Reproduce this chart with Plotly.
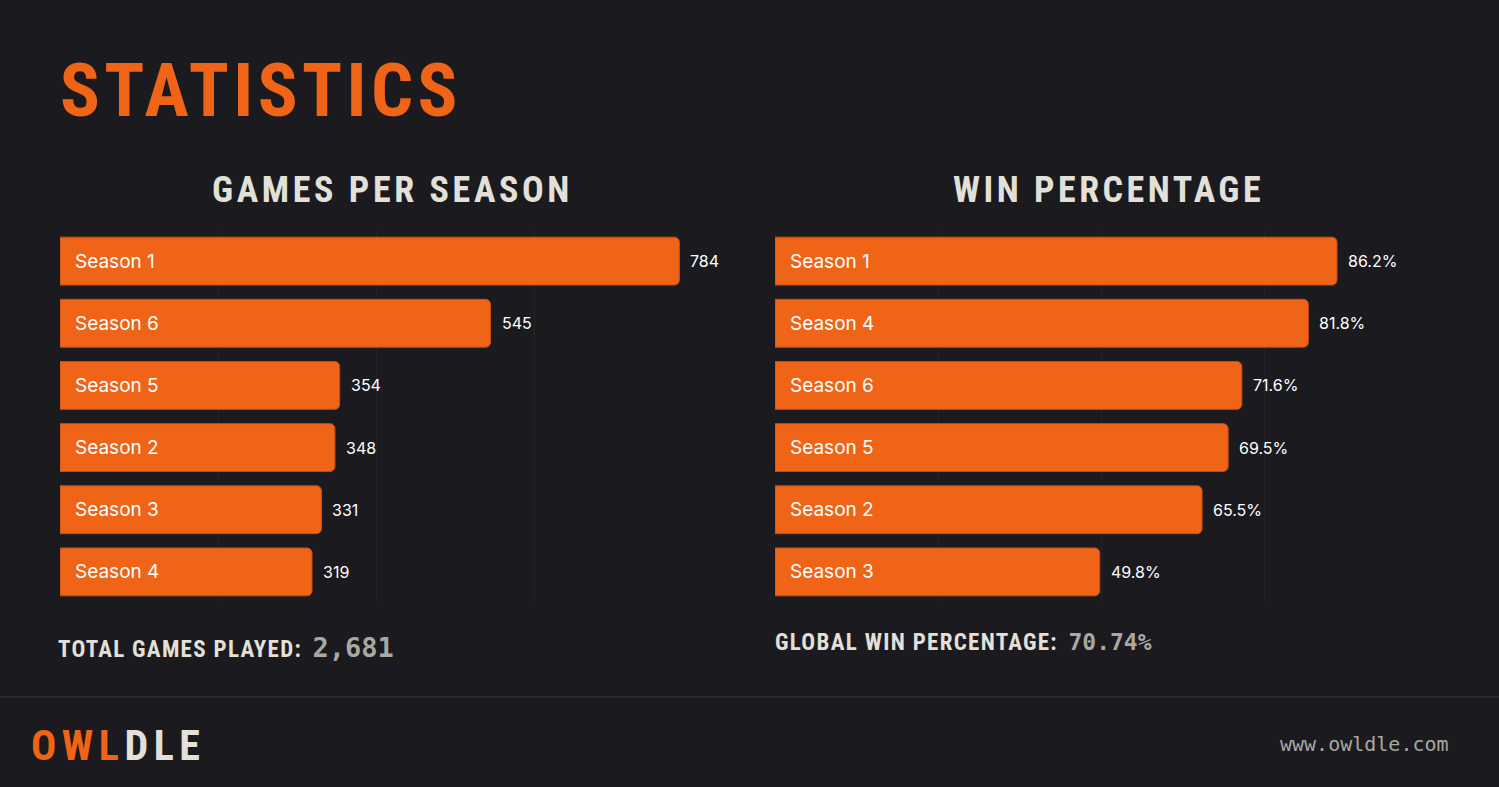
import plotly.graph_objects as go

W, H = 1499, 787

games_seasons = ["Season 1", "Season 6", "Season 5", "Season 2", "Season 3", "Season 4"]
games_values = [784, 545, 354, 348, 331, 319]
games_labels = ["784", "545", "354", "348", "331", "319"]

win_seasons = ["Season 1", "Season 4", "Season 6", "Season 5", "Season 2", "Season 3"]
win_values = [86.2, 81.8, 71.6, 69.5, 65.5, 49.8]
win_labels = ["86.2%", "81.8%", "71.6%", "69.5%", "65.5%", "49.8%"]

total_games = "2,681"
global_win = "70.74%"

BG = "#1b1a1f"
ORANGE = "#f06418"
LIGHT = "#e2e0d8"
GREY = "#a9a8a2"
GRID = "#232228"
TITLE_FONT = "Liberation Sans Narrow, Roboto Condensed, Roboto, sans-serif"
MONO = "DejaVu Sans Mono, monospace"
BODY = "Inter, Roboto, sans-serif"

def px(x):
    return x / W

def py(y):
    return 1 - y / H

fig = go.Figure()

fig.add_trace(go.Bar(
    x=games_values, y=games_seasons, orientation="h",
    marker=dict(color=ORANGE, line=dict(color="#c44f12", width=1)),
    xaxis="x", yaxis="y", hoverinfo="skip", showlegend=False,
))
fig.add_trace(go.Bar(
    x=win_values, y=win_seasons, orientation="h",
    marker=dict(color=ORANGE, line=dict(color="#c44f12", width=1)),
    xaxis="x2", yaxis="y2", hoverinfo="skip", showlegend=False,
))

annotations = []
for s, v, lab in zip(games_seasons, games_values, games_labels):
    annotations.append(dict(x=0, y=s, xref="x", yref="y", text=s, showarrow=False,
                            xanchor="left", yanchor="middle", xshift=13,
                            font=dict(family=BODY, size=19, color="#ffffff")))
    annotations.append(dict(x=v, y=s, xref="x", yref="y", text=lab, showarrow=False,
                            xanchor="left", yanchor="middle", xshift=9,
                            font=dict(family=BODY, size=16, color="#ffffff")))
for s, v, lab in zip(win_seasons, win_values, win_labels):
    annotations.append(dict(x=0, y=s, xref="x2", yref="y2", text=s, showarrow=False,
                            xanchor="left", yanchor="middle", xshift=13,
                            font=dict(family=BODY, size=19, color="#ffffff")))
    annotations.append(dict(x=v, y=s, xref="x2", yref="y2", text=lab, showarrow=False,
                            xanchor="left", yanchor="middle", xshift=9,
                            font=dict(family=BODY, size=16, color="#ffffff")))

def txt(x, y, text, size, color, family=TITLE_FONT, xanchor="left"):
    annotations.append(dict(x=px(x), y=py(y), xref="paper", yref="paper",
                            text=text, showarrow=False,
                            xanchor=xanchor, yanchor="middle",
                            font=dict(family=family, size=size, color=color)))

def spaced(text, ls):
    return f"<span style='letter-spacing:{ls}px'><b>{text}</b></span>"

def stat(label, value, vsize):
    return (f"{spaced(label, 1.3)}  <span style='font-family:{MONO};font-size:{vsize}px;"
            f"color:{GREY};font-weight:bold'>{value}</span>")

txt(58, 90, spaced("STATISTICS", 4.4), 74, ORANGE)
txt(393, 190, spaced("GAMES PER SEASON", 3.6), 36, LIGHT, xanchor="center")
txt(1108, 190, spaced("WIN PERCENTAGE", 3.5), 36, LIGHT, xanchor="center")
txt(56, 647, stat("TOTAL GAMES PLAYED:", total_games, 27), 23, LIGHT)
txt(773, 642, stat("GLOBAL WIN PERCENTAGE:", global_win, 23), 23, LIGHT)
txt(29, 745, f"<span style='letter-spacing:5.5px'><b><span style='color:{ORANGE}'>OWL</span>DLE</b></span>", 42, LIGHT)
txt(1451, 744, "www.owldle.com", 20, GREY, family=MONO, xanchor="right")

grid = dict(showgrid=True, gridcolor=GRID, gridwidth=1, zeroline=False,
            showticklabels=False, ticks="", showline=False, fixedrange=True)
cat = dict(showgrid=False, zeroline=False, showticklabels=False, ticks="",
           showline=False, autorange="reversed", fixedrange=True)

fig.update_layout(
    width=W, height=H,
    margin=dict(l=0, r=0, t=0, b=0),
    paper_bgcolor=BG, plot_bgcolor=BG,
    barcornerradius=5, bargap=0.23,
    xaxis=dict(domain=[px(60), px(692)], range=[0, 800], dtick=200, anchor="y", **grid),
    yaxis=dict(domain=[py(603), py(230)], anchor="x", **cat),
    xaxis2=dict(domain=[px(775), px(1427)], range=[0, 100], dtick=25, anchor="y2", **grid),
    yaxis2=dict(domain=[py(603), py(230)], anchor="x2", **cat),
    annotations=annotations,
    shapes=[dict(type="line", xref="paper", yref="paper", x0=0, x1=1,
                 y0=py(697), y1=py(697), line=dict(color="#2b2a2f", width=2))],
    showlegend=False,
)

fig.write_html("out.html", config={"displayModeBar": False})
